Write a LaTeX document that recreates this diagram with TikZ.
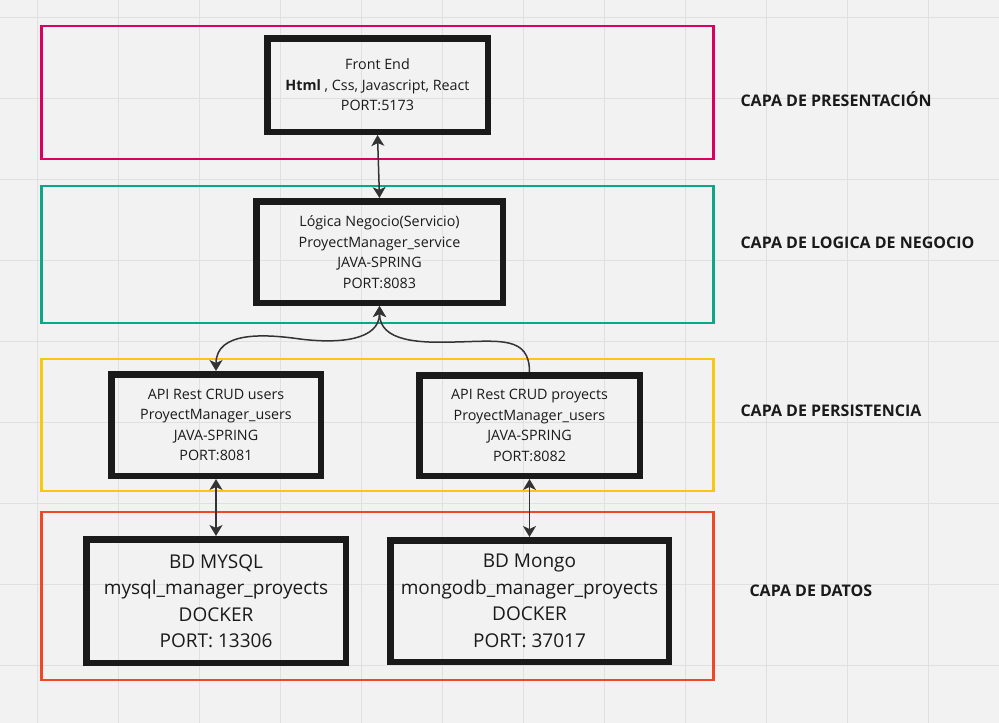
\documentclass[tikz,border=0pt]{standalone}
\usepackage{fontspec}
\setmainfont{Open Sans}
\usetikzlibrary{arrows.meta}
\definecolor{fondo}{HTML}{F2F2F2}
\definecolor{rejilla}{HTML}{E0E0E0}
\definecolor{negro}{HTML}{1A1A1A}
\definecolor{gris}{HTML}{333333}
\definecolor{rosa}{HTML}{DA0063}
\definecolor{verde}{HTML}{0CA789}
\definecolor{amarillo}{HTML}{FAC710}
\definecolor{rojo}{HTML}{F24726}
\begin{document}
\begin{tikzpicture}[x=1pt, y=-1pt, >={Stealth[length=11pt,width=13pt,inset=3pt]},
    caja/.style={draw=negro, line width=6.5pt, align=center, inner sep=0pt, text=negro,
      font=\fontsize{14.3}{20.5}\selectfont},
    cajabd/.style={caja, font=\fontsize{19}{26.5}\selectfont},
    capa/.style={line width=2.5pt},
    enlace/.style={draw=gris, line width=1.5pt},
    etiqueta/.style={anchor=west, text=negro, font=\fontsize{16}{19}\selectfont\bfseries}]
    \fill[fondo] (0,0) rectangle (999,723);
    \useasboundingbox (0,0) rectangle (999,723);
    \foreach \gx in {37,118,...,999}
      \draw[rejilla, line width=1pt] (\gx,0) -- (\gx,723);
    \foreach \gy in {17,98,...,723}
      \draw[rejilla, line width=1pt] (0,\gy) -- (999,\gy);
    \draw[capa, draw=rosa] (41.5,26) rectangle (713.5,159);
    \draw[capa, draw=verde] (41.5,186) rectangle (713.5,323);
    \draw[capa, draw=amarillo] (41.5,359) rectangle (713.5,491);
    \draw[capa, draw=rojo] (41.5,512) rectangle (713.5,680);
    \node[caja, minimum width=220.5pt, minimum height=93.5pt] (front) at (377.5,85)
      {Front End\\\textbf{Html} , Css, Javascript, React\\PORT:5173};
    \node[caja, minimum width=246.5pt, minimum height=101.5pt] (logica) at (379.5,252)
      {Lógica Negocio(Servicio)\\ProyectManager\_service\\JAVA-SPRING\\PORT:8083};
    \node[caja, minimum width=209.5pt, minimum height=101.5pt] (users) at (216,425)
      {API Rest CRUD users\\ProyectManager\_users\\JAVA-SPRING\\PORT:8081};
    \node[caja, minimum width=220.5pt, minimum height=100.5pt] (proyects) at (529.5,425.5)
      {API Rest CRUD proyects\\ProyectManager\_users\\JAVA-SPRING\\PORT:8082};
    \node[cajabd, minimum width=259.5pt, minimum height=123.5pt] (mysql) at (216,601)
      {BD MYSQL\\mysql\_manager\_proyects\\DOCKER\\PORT: 13306};
    \node[cajabd, minimum width=278.5pt, minimum height=121.5pt] (mongo) at (529.5,601)
      {BD Mongo\\mongodb\_manager\_proyects\\DOCKER\\PORT: 37017};
    \node[etiqueta] (presentacion) at (737,99) {CAPA DE PRESENTACIÓN};
    \node[etiqueta] (negocio) at (737,243) {CAPA DE LOGICA DE NEGOCIO};
    \node[etiqueta] (persistencia) at (737,411) {CAPA DE PERSISTENCIA};
    \node[etiqueta] (datos) at (746,591) {CAPA DE DATOS};
    \coordinate (wl) at (300,339);
    \coordinate (wr) at (455,342);
    \draw[enlace, <->] (front.south) -- (logica.north);
    \draw[enlace, <->] (logica.south) .. controls +(0,34) and +(40,5) .. (wl)
      .. controls +(-35,-5) and +(0,-40) .. (users.north);
    \draw[enlace, ->] (proyects.north) .. controls +(0,-36) and +(45,-1) .. (wr)
      .. controls +(-35,1) and +(0,36) .. (logica.south);
    \draw[enlace, <->] (users.south) -- (mysql.north);
    \draw[enlace, <->] (proyects.south) -- (mongo.north);
  \end{tikzpicture}
\end{document}
